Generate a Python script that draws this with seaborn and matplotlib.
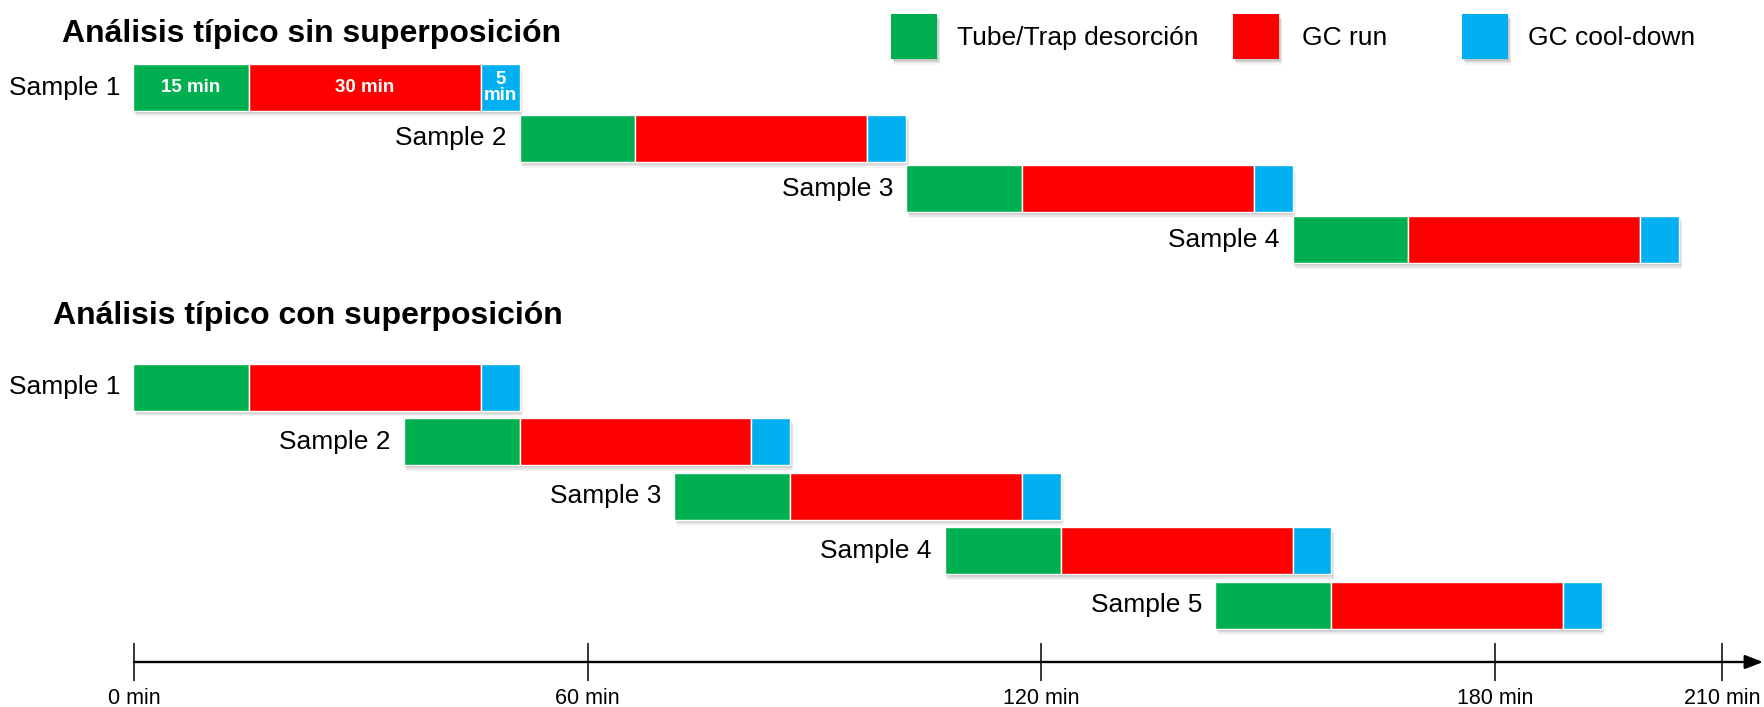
import matplotlib
matplotlib.use("Agg")
import matplotlib.pyplot as plt
import matplotlib.patheffects as pe
from matplotlib.patches import Rectangle
import seaborn as sns

# ---------------- data ----------------
phases = ["Tube/Trap desorción", "GC run", "GC cool-down"]
phase_minutes = [15, 30, 5]
phase_colors = ["#00B050", "#FF0000", "#00B0F0"]
segment_texts = ["15 min", "30 min", "5\nmin"]

top_title = "Análisis típico sin superposición"
top_samples = ["Sample 1", "Sample 2", "Sample 3", "Sample 4"]
top_starts = [0, 50, 100, 150]

bottom_title = "Análisis típico con superposición"
bottom_samples = ["Sample 1", "Sample 2", "Sample 3", "Sample 4", "Sample 5"]
bottom_starts = [0, 35, 70, 105, 140]

axis_ticks = [0, 60, 120, 180, 210]
axis_labels = ["0 min", "60 min", "120 min", "180 min", "210 min"]

# ---------------- style ----------------
sns.set_theme(style="white")
plt.rcParams["font.family"] = ["Liberation Sans", "DejaVu Sans"]
plt.rcParams["text.color"] = "black"

W, H = 1764, 707
fig = plt.figure(figsize=(W / 100, H / 100), dpi=100)

# ---- bars axes (gantt) ----
ax = fig.add_axes([0, 0, 1, 1])
X0, PPM = 133, 7.73            # layout: pixel of t=0 and pixels per minute for bars
ax.set_xlim(-X0 / PPM, (W - X0) / PPM)
ax.set_ylim(H, 0)
ax.axis("off")

BAR_H = 47
# soft drop shadow built from several faint offset copies
shadow = [
    pe.SimplePatchShadow(offset=(0.6, -1.2), shadow_rgbFace="black", alpha=0.07),
    pe.SimplePatchShadow(offset=(1.2, -2.2), shadow_rgbFace="black", alpha=0.07),
    pe.SimplePatchShadow(offset=(1.8, -3.2), shadow_rgbFace="black", alpha=0.06),
    pe.SimplePatchShadow(offset=(2.4, -4.2), shadow_rgbFace="black", alpha=0.04),
    pe.Normal(),
]


def draw_panel(starts, names, y0, pitch, annotate_first=False):
    for i, (s, name) in enumerate(zip(starts, names)):
        y = y0 + i * pitch
        left = s
        for j, (d, c) in enumerate(zip(phase_minutes, phase_colors)):
            bars = ax.barh(y, d, left=left, height=BAR_H, color=c,
                           edgecolor="white", linewidth=1.0)
            for b in bars:
                b.set_path_effects(shadow)
            if annotate_first and i == 0:
                ax.text(left + d / 2, y, segment_texts[j], ha="center", va="center",
                        color="white", fontsize=13.5, fontweight="bold", linespacing=1.0)
            left += d
        ax.annotate(name, xy=(s, y), xytext=(-13, 0), textcoords="offset pixels",
                    ha="right", va="center", fontsize=19, color="black")


draw_panel(top_starts, top_samples, 87.5, 50.7, annotate_first=True)
draw_panel(bottom_starts, bottom_samples, 387, 54.6)

# ---- timeline axes ----
ax2 = fig.add_axes([0, 0, 1, 1])
ax2.patch.set_alpha(0)
T0 = 134
TPM = (1722 - T0) / 210.0
ax2.set_xlim(-T0 / TPM, (W - T0) / TPM)
ax2.set_ylim(H, 0)
ax2.axis("off")
AXIS_Y = 662
axis_end = (1763 - T0) / TPM
ax2.annotate("", xy=(axis_end, AXIS_Y), xytext=(0, AXIS_Y),
             arrowprops=dict(arrowstyle="-|>,head_length=0.9,head_width=0.35",
                             lw=1.7, color="black", shrinkA=0, shrinkB=0))
ax2.vlines(axis_ticks, AXIS_Y - 19, AXIS_Y + 19, color="black", lw=1.1)
for t, lab in zip(axis_ticks, axis_labels):
    ax2.text(t, 698, lab, ha="center", va="center", fontsize=15.5, color="black")

# ---- titles and legend (pixel overlay) ----
ax3 = fig.add_axes([0, 0, 1, 1])
ax3.patch.set_alpha(0)
ax3.set_xlim(0, W)
ax3.set_ylim(H, 0)
ax3.axis("off")
ax3.text(62, 34, top_title, fontsize=23, fontweight="bold", ha="left", va="center",
         color="black")
ax3.text(53, 316, bottom_title, fontsize=23, fontweight="bold", ha="left", va="center",
         color="black")

legend_patch_x = [891, 1233, 1462]
legend_text_x = [957, 1302, 1528]
for px, tx, c, lab in zip(legend_patch_x, legend_text_x, phase_colors, phases):
    r = Rectangle((px, 14), 46, 45, facecolor=c, edgecolor="none")
    r.set_path_effects(shadow)
    ax3.add_patch(r)
    ax3.text(tx, 38, lab, fontsize=19, ha="left", va="center", color="black")

fig.savefig("out.png", dpi=100)
